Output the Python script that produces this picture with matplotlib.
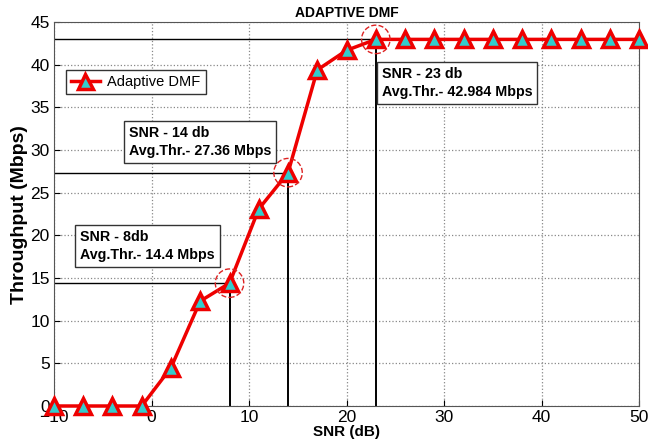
import matplotlib
matplotlib.use("Agg")
import matplotlib.pyplot as plt

plt.rcParams['font.family'] = ['Liberation Sans', 'DejaVu Sans']

# SNR sweep and measured throughput
snr = [-10, -7, -4, -1, 2, 5, 8, 11, 14, 17, 20, 23, 26, 29, 32, 35, 38, 41, 44, 47, 50]
throughput = [0, 0, 0, 0, 4.5, 12.3, 14.4, 23.1, 27.36, 39.4, 41.7, 42.984,
              42.984, 42.984, 42.984, 42.984, 42.984, 42.984, 42.984, 42.984, 42.984]

# highlighted operating points
mark_snr = [8, 14, 23]
mark_thr = [14.4, 27.36, 42.984]
mark_text = ["SNR - 8db\nAvg.Thr.- 14.4 Mbps",
             "SNR - 14 db\nAvg.Thr.- 27.36 Mbps",
             "SNR - 23 db\nAvg.Thr.- 42.984 Mbps"]
text_pos = [(-7.3, 20.6), (-2.3, 32.8), (23.6, 39.7)]

fig = plt.figure(figsize=(6.48, 4.44), dpi=100)
ax = fig.add_axes([0.0833, 0.0856, 0.903, 0.8644])

# guide lines from the axes to each highlighted point
for x, y in zip(mark_snr, mark_thr):
    ax.plot([-10, x], [y, y], color='black', lw=1.0, zorder=2)
    ax.plot([x, x], [0, y], color='black', lw=1.4, zorder=2)

ax.plot(snr, throughput, color='#ee0000', lw=2.5, marker='^', markersize=12,
        markerfacecolor='#33cccc', markeredgecolor='#ee0000', markeredgewidth=2.5,
        label='Adaptive DMF', zorder=3, clip_on=False)

ax.scatter(mark_snr, mark_thr, s=420, facecolors='none', edgecolors='#dd2222',
           linestyles='--', linewidths=1.0, zorder=4, clip_on=False)

for (tx, ty), txt in zip(text_pos, mark_text):
    ax.text(tx, ty, txt, fontsize=10.3, fontweight='bold', va='top', ha='left',
            linespacing=1.35,
            bbox=dict(boxstyle='square,pad=0.35', facecolor='white', edgecolor='#333333', lw=1.0),
            zorder=5)

ax.set_xlim(-10, 50)
ax.set_ylim(0, 45)
ax.set_xticks(range(-10, 51, 10))
ax.set_yticks(range(0, 46, 5))
ax.tick_params(direction='in', labelsize=12.5, length=4, pad=3)
ax.grid(True, linestyle=':', color='#888888', lw=0.9)
for s in ax.spines.values():
    s.set_color('#555555')

ax.set_title('ADAPTIVE DMF', fontsize=10, fontweight='bold', pad=4)
ax.set_xlabel('SNR (dB)', fontsize=11, fontweight='bold', labelpad=0)
ax.set_ylabel('Throughput (Mbps)', fontsize=14, fontweight='bold', labelpad=2)

leg = ax.legend(loc='upper left', bbox_to_anchor=(0.02, 0.876), fontsize=10.5,
                fancybox=False, framealpha=1, edgecolor='#333333',
                handlelength=2.0, handletextpad=0.5, borderpad=0.35,
                borderaxespad=0, markerscale=0.9)
leg.get_frame().set_linewidth(1.0)

fig.savefig('out.png', dpi=100)
